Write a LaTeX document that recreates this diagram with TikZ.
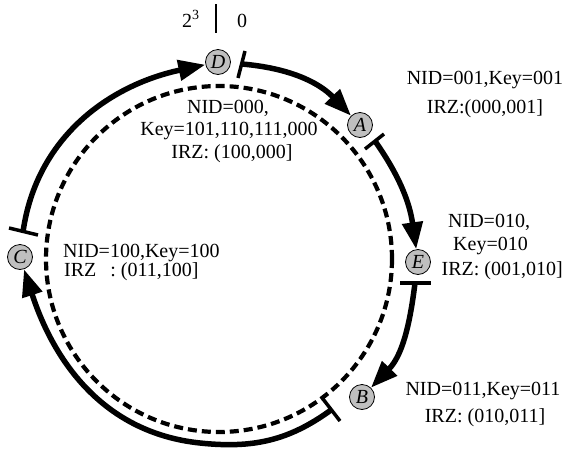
\documentclass[tikz,border=0pt]{standalone}
\usepackage{fontspec}
\setmainfont{Liberation Serif}
\usetikzlibrary{arrows.meta}
\begin{document}
\begin{tikzpicture}[x=1pt,y=-1pt,
  peer/.style={circle,draw,line width=0.8pt,fill=black!25,minimum size=25pt,inner sep=0pt,font=\fontsize{20}{24}\selectfont\itshape},
  conn/.style={line width=5.5pt,-{Triangle[length=27pt,width=20pt]}},
  tickmark/.style={line width=3.5pt},
  lbl/.style={font=\fontsize{20}{24}\selectfont,inner sep=0pt},
  ring/.style={line width=4.2pt,dash pattern=on 9pt off 5pt}]
\useasboundingbox[fill=white] (0,0) rectangle (566,448);
% dashed ring
\draw[ring] (219,259) circle[radius=173];
% peers
\node[peer] (D) at (218,62) {D};
\node[peer] (A) at (360,125) {A};
\node[peer] (E) at (418,262) {E};
\node[peer] (B) at (362,397) {B};
\node[peer] (C) at (20,257) {C};
% tick marks and start points
\coordinate (dT1) at (245,51); \coordinate (dT2) at (238,78); \coordinate (dS) at (242,64);
\coordinate (aT1) at (365,149); \coordinate (aT2) at (384,134); \coordinate (aS) at (375,141);
\coordinate (eT1) at (400,283); \coordinate (eT2) at (431,283); \coordinate (eS) at (415,283);
\coordinate (bT1) at (323,399); \coordinate (bT2) at (340,421); \coordinate (bS) at (331,410);
\coordinate (cT1) at (9,228); \coordinate (cT2) at (38,235); \coordinate (cS) at (23,232);
\coordinate (bM) at (200,443);
\draw[tickmark] (dT1) -- (dT2);
\draw[tickmark] (aT1) -- (aT2);
\draw[tickmark] (eT1) -- (eT2);
\draw[tickmark] (bT1) -- (bT2);
\draw[tickmark] (cT1) -- (cT2);
% connectors
\draw[conn] (dS) to[out=-5,in=134] (A);
\draw[conn] (aS) to[out=-55,in=98] (E);
\draw[conn] (eS) to[out=-97,in=46] (B);
\draw[conn] (bS) to[out=-144,in=-6] (bM) to[out=174,in=-72] (C);
\draw[conn] (cS) to[out=82,in=-168] (D);
% top marker
\coordinate (z1) at (216,4); \coordinate (z2) at (216,33);
\draw[line width=2.5pt] (z1) -- (z2);
\node[lbl,anchor=base west] (two) at (182,27) {2\textsuperscript{3}};
\node[lbl,anchor=base west] (zero) at (237,27) {0};
% labels
\node[lbl,anchor=base] (a1) at (485,84) {NID=001,Key=001};
\node[lbl,anchor=base] (a2) at (485,113) {IRZ:(000,001]};
\node[lbl,anchor=base] (d1) at (228,113) {NID=000,};
\node[lbl,anchor=base] (d2) at (229,135) {Key=101,110,111,000};
\node[lbl,anchor=base] (d3) at (232,158) {IRZ: (100,000]};
\node[lbl,anchor=base west] (c1) at (63,257) {NID=100,Key=100};
\node[lbl,anchor=base west] (c2) at (64,276) {IRZ\hspace{14pt}: (011,100]};
\node[lbl,anchor=base west] (e1) at (448,227) {NID=010,};
\node[lbl,anchor=base west] (e2) at (453,250) {Key=010};
\node[lbl,anchor=base east] (e3) at (563,275) {IRZ: (001,010]};
\node[lbl,anchor=base] (b1) at (483,395) {NID=011,Key=011};
\node[lbl,anchor=base] (b2) at (485,422) {IRZ: (010,011]};
\end{tikzpicture}
\end{document}
